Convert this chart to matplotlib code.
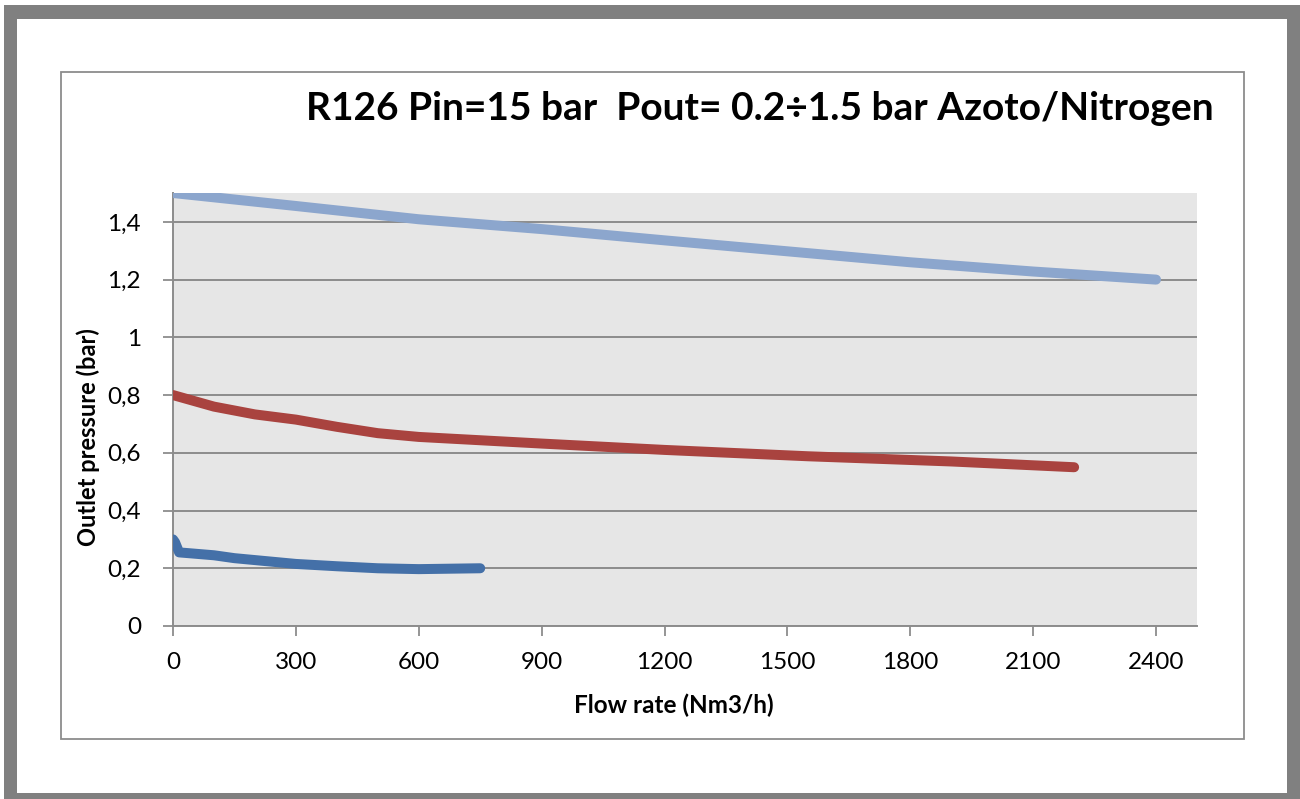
import matplotlib
matplotlib.use("Agg")
import matplotlib.pyplot as plt
from matplotlib.patches import Rectangle

# Data
x_light = [0, 300, 600, 900, 1200, 1500, 1800, 2100, 2400]
y_light = [1.5, 1.455, 1.409, 1.375, 1.336, 1.298, 1.26, 1.228, 1.2]

x_red = [0, 100, 200, 300, 400, 500, 600, 900, 1200, 1550, 1900, 2200]
y_red = [0.80, 0.76, 0.733, 0.715, 0.69, 0.668, 0.655, 0.632, 0.61, 0.588, 0.57, 0.55]

x_dark = [0, 5, 15, 100, 150, 300, 400, 500, 600, 750]
y_dark = [0.30, 0.29, 0.255, 0.245, 0.235, 0.215, 0.207, 0.200, 0.197, 0.200]

x_ticks = [0, 300, 600, 900, 1200, 1500, 1800, 2100, 2400]
y_ticks = [0, 0.2, 0.4, 0.6, 0.8, 1.0, 1.2, 1.4]
y_tick_labels = ["0", "0,2", "0,4", "0,6", "0,8", "1", "1,2", "1,4"]

title = "R126 Pin=15 bar  Pout= 0.2÷1.5 bar Azoto/Nitrogen"
xlabel = "Flow rate (Nm3/h)"
ylabel = "Outlet pressure (bar)"

W, H = 1300, 799
plt.rcParams["font.family"] = ["Lato", "DejaVu Sans"]
fig = plt.figure(figsize=(W / 100, H / 100), dpi=100)
fig.patch.set_facecolor("white")

def fx(px):
    return px / W

def fy(py):
    return 1 - py / H

# outer gray frame
fig.patches.append(Rectangle((fx(4), fy(799)), fx(1300) - fx(4), fy(5) - fy(799),
                             transform=fig.transFigure, facecolor="#808080", edgecolor="none", zorder=-3))
fig.patches.append(Rectangle((fx(17), fy(793)), fx(1287) - fx(17), fy(19) - fy(793),
                             transform=fig.transFigure, facecolor="white", edgecolor="none", zorder=-2))
# inner chart frame
fig.patches.append(Rectangle((fx(61), fy(739)), fx(1244) - fx(61), fy(72) - fy(739),
                             transform=fig.transFigure, facecolor="none", edgecolor="#8c8c8c",
                             linewidth=1.3, zorder=-1))

ax = fig.add_axes([fx(173), fy(626), fx(1197) - fx(173), fy(193) - fy(626)])
ax.set_zorder(5)
ax.set_facecolor("#e6e6e6")
ax.set_xlim(0, 2500)
ax.set_ylim(0, 1.5)

lw = 7.2
ax.plot(x_light, y_light, color="#8ca6cd", lw=lw, solid_capstyle="round", solid_joinstyle="round", zorder=3)
ax.plot(x_red, y_red, color="#a9433f", lw=lw, solid_capstyle="round", solid_joinstyle="round", zorder=3)
ax.plot(x_dark, y_dark, color="#4470a8", lw=lw, solid_capstyle="round", solid_joinstyle="round", zorder=3)

ax.set_xticks(x_ticks)
ax.set_xticklabels([str(v) for v in x_ticks])
ax.set_yticks(y_ticks)
ax.set_yticklabels(y_tick_labels)
ax.grid(axis="y", color="#8c8c8c", linewidth=1.4, zorder=1)
ax.set_axisbelow(True)

for s in ["top", "right"]:
    ax.spines[s].set_visible(False)
for s in ["left", "bottom"]:
    ax.spines[s].set_color("#8c8c8c")
    ax.spines[s].set_linewidth(1.4)

ax.tick_params(axis="both", colors="#8c8c8c", width=1.3, length=7, labelcolor="black", labelsize=17.5)
ax.tick_params(axis="y", pad=16)
ax.tick_params(axis="x", pad=12)

fig.text(fx(674), fy(705), xlabel, ha="center", va="center", fontsize=17.5, fontweight="bold")
fig.text(fx(88), fy(437), ylabel, ha="center", va="center", rotation=90, fontsize=17, fontweight="bold")
fig.text(fx(1214), fy(108), title, ha="right", va="center", fontsize=28, fontweight="bold")

fig.savefig("out.png", dpi=100, facecolor="white")
